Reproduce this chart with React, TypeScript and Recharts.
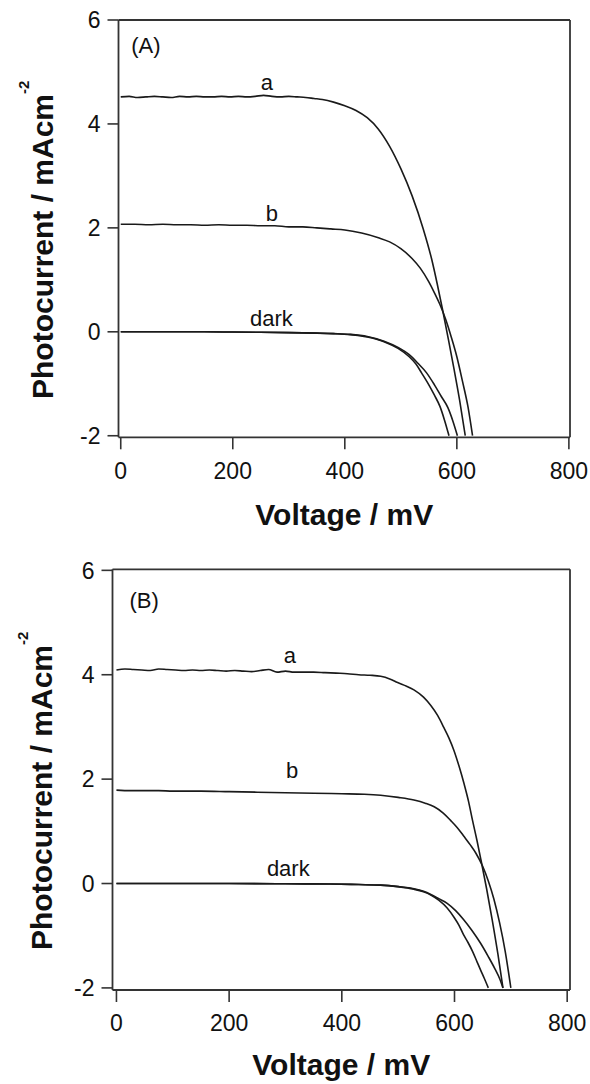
import React from 'react';
import { LineChart, Line, XAxis, YAxis, ReferenceLine, ReferenceDot } from 'recharts';

const FONT = '"Liberation Sans", Arial, Helvetica, sans-serif';
const INK = '#111';
const AXIS = '#333';

const X_TICKS = [0, 200, 400, 600, 800];
const Y_TICKS = [-2, 0, 2, 4, 6];

// Panel A
const A_A_V = [0, 15, 30, 45, 60, 75, 90, 105, 120, 135, 150, 165, 180, 195, 210, 225, 240, 255, 270, 285, 300, 315, 330, 345, 360, 380, 400, 420, 440, 460, 480, 500, 520, 540, 555, 565, 575, 585, 595, 605, 615];
const A_A_J = [4.52, 4.53, 4.51, 4.52, 4.53, 4.52, 4.51, 4.53, 4.52, 4.53, 4.52, 4.52, 4.53, 4.52, 4.53, 4.52, 4.53, 4.55, 4.53, 4.52, 4.53, 4.52, 4.51, 4.49, 4.47, 4.42, 4.35, 4.26, 4.12, 3.9, 3.57, 3.14, 2.62, 1.98, 1.4, 0.92, 0.4, -0.15, -0.72, -1.32, -2.0];

const A_B_V = [0, 25, 50, 75, 100, 125, 150, 175, 200, 225, 250, 275, 300, 325, 350, 375, 400, 430, 460, 480, 500, 520, 535, 550, 560, 570, 580, 590, 600, 610, 620, 628];
const A_B_J = [2.07, 2.07, 2.06, 2.07, 2.06, 2.06, 2.05, 2.06, 2.05, 2.05, 2.04, 2.04, 2.02, 2.02, 2.0, 1.98, 1.96, 1.9, 1.81, 1.73, 1.6, 1.41, 1.22, 0.96, 0.75, 0.52, 0.24, -0.1, -0.48, -0.95, -1.45, -2.0];

const A_D1_V = [0, 50, 100, 150, 200, 250, 300, 350, 380, 410, 440, 470, 495, 515, 527, 537, 550, 560, 570, 578, 586];
const A_D1_J = [0, 0, 0, 0, -0.005, -0.01, -0.015, -0.025, -0.035, -0.055, -0.1, -0.19, -0.32, -0.48, -0.62, -0.79, -1.02, -1.22, -1.44, -1.7, -2.0];

const A_D2_V = [0, 50, 100, 150, 200, 250, 300, 350, 380, 410, 440, 470, 495, 515, 530, 546, 560, 572, 584, 593, 601];
const A_D2_J = [0, 0, 0, 0, -0.005, -0.01, -0.015, -0.025, -0.035, -0.05, -0.09, -0.18, -0.3, -0.44, -0.6, -0.79, -1.02, -1.24, -1.46, -1.72, -2.0];

// Panel B
const B_A_V = [0, 15, 30, 45, 60, 75, 90, 105, 120, 135, 150, 165, 180, 195, 210, 225, 240, 255, 270, 285, 300, 315, 330, 350, 370, 390, 410, 430, 450, 469, 485, 499, 515, 528, 545, 558, 570, 581, 590, 599, 608, 617, 625, 632, 640, 647, 657, 667, 677, 686];
const B_A_J = [4.09, 4.11, 4.1, 4.09, 4.08, 4.11, 4.1, 4.09, 4.08, 4.09, 4.08, 4.09, 4.08, 4.07, 4.08, 4.07, 4.06, 4.08, 4.1, 4.05, 4.07, 4.05, 4.05, 4.05, 4.04, 4.03, 4.02, 4.0, 3.99, 3.97, 3.92, 3.85, 3.78, 3.71, 3.57, 3.41, 3.22, 2.99, 2.79, 2.55, 2.25, 1.91, 1.57, 1.21, 0.82, 0.45, -0.1, -0.7, -1.35, -2.0];

const B_B_V = [0, 25, 50, 75, 100, 150, 200, 250, 300, 350, 400, 440, 469, 500, 528, 548, 564, 580, 593, 605, 617, 628, 638, 650, 660, 670, 680, 690, 700];
const B_B_J = [1.79, 1.78, 1.78, 1.78, 1.77, 1.77, 1.76, 1.75, 1.74, 1.73, 1.72, 1.71, 1.69, 1.65, 1.6, 1.54, 1.47, 1.35, 1.21, 1.07, 0.9, 0.74, 0.58, 0.33, 0.05, -0.3, -0.75, -1.3, -2.0];

const B_D1_V = [0, 100, 200, 300, 380, 430, 469, 500, 528, 545, 558, 572, 587, 600, 608, 616, 624, 632, 640, 646, 653, 660];
const B_D1_J = [0, 0, 0, -0.005, -0.01, -0.02, -0.03, -0.06, -0.11, -0.16, -0.22, -0.32, -0.47, -0.66, -0.8, -0.98, -1.13, -1.3, -1.5, -1.65, -1.82, -2.0];

const B_D2_V = [0, 100, 200, 300, 380, 430, 469, 500, 528, 545, 558, 572, 587, 602, 616, 631, 646, 660, 672, 680, 686];
const B_D2_J = [0, 0, 0, -0.005, -0.01, -0.02, -0.03, -0.06, -0.1, -0.15, -0.21, -0.29, -0.38, -0.52, -0.69, -0.9, -1.14, -1.4, -1.64, -1.82, -2.0];

// annotations
const A_NOTES = [
  { text: '(A)', v: 45, j: 5.51 },
  { text: 'a', v: 261, j: 4.81 },
  { text: 'b', v: 270, j: 2.29 },
  { text: 'dark', v: 269, j: 0.27 },
];
const B_NOTES = [
  { text: '(B)', v: 49, j: 5.43 },
  { text: 'a', v: 308, j: 4.38 },
  { text: 'b', v: 312, j: 2.17 },
  { text: 'dark', v: 305, j: 0.29 },
];

const zip = (vs: number[], js: number[]) => vs.map((v, i) => ({ v, j: js[i] }));

const A_SERIES = [zip(A_A_V, A_A_J), zip(A_B_V, A_B_J), zip(A_D1_V, A_D1_J), zip(A_D2_V, A_D2_J)];
const B_SERIES = [zip(B_A_V, B_A_J), zip(B_B_V, B_B_J), zip(B_D1_V, B_D1_J), zip(B_D2_V, B_D2_J)];

type PanelProps = {
  top: number;
  height: number;
  margin: { top: number; right: number; bottom: number; left: number };
  xDomain: [number, number];
  yDomain: [number, number];
  series: { v: number; j: number }[][];
  notes: { text: string; v: number; j: number }[];
  yLabelX: number;
  yLabelY: number;
  xLabelOffset: number;
};

function Panel(p: PanelProps) {
  const yLabel = () => (
    <text
      transform={`translate(${p.yLabelX},${p.yLabelY}) rotate(-90)`}
      fontFamily={FONT}
      fontSize={30}
      fontWeight="bold"
      fill={INK}
      textAnchor="start"
    >
      Photocurrent / mAcm
      <tspan fontSize={15} dy={-24}>-2</tspan>
    </text>
  );
  return (
    <div style={{ position: 'absolute', left: 0, top: p.top }}>
      <LineChart width={590} height={p.height} margin={p.margin}>
        <XAxis
          type="number"
          dataKey="v"
          domain={p.xDomain}
          ticks={X_TICKS}
          height={40}
          tickSize={12}
          tickMargin={13}
          axisLine={{ stroke: AXIS, strokeWidth: 1.8 }}
          tickLine={{ stroke: AXIS, strokeWidth: 1.6 }}
          tick={{ fill: INK, fontSize: 23, fontFamily: FONT }}
          label={{
            value: 'Voltage / mV',
            position: 'bottom',
            offset: p.xLabelOffset,
            fontSize: 30,
            fontWeight: 'bold',
            fill: INK,
            fontFamily: FONT,
          }}
        />
        <YAxis
          type="number"
          dataKey="j"
          domain={p.yDomain}
          ticks={Y_TICKS}
          width={60}
          tickSize={11}
          tickMargin={7}
          axisLine={{ stroke: AXIS, strokeWidth: 1.8 }}
          tickLine={{ stroke: AXIS, strokeWidth: 1.6 }}
          tick={{ fill: INK, fontSize: 23, fontFamily: FONT }}
          label={yLabel}
        />
        <ReferenceLine y={p.yDomain[1]} stroke={AXIS} strokeWidth={1.8} />
        <ReferenceLine x={p.xDomain[1]} stroke={AXIS} strokeWidth={1.8} />
        {p.series.map((d, i) => (
          <Line
            key={i}
            data={d}
            dataKey="j"
            type="monotone"
            dot={false}
            stroke="#1a1a1a"
            strokeWidth={1.6}
            isAnimationActive={false}
          />
        ))}
        {p.notes.map((n, i) => (
          <ReferenceDot
            key={'n' + i}
            x={n.v}
            y={n.j}
            r={0}
            fill="none"
            stroke="none"
            label={{ value: n.text, position: 'center', fontSize: 22, fill: INK, fontFamily: FONT }}
          />
        ))}
      </LineChart>
    </div>
  );
}

export default function App() {
  return (
    <div style={{ position: 'absolute', left: 0, top: 0, width: 590, height: 1084, background: '#fff' }}>
      <Panel
        top={0}
        height={540}
        margin={{ top: 20, right: 20, bottom: 62.7, left: 58.5 }}
        xDomain={[-4, 802]}
        yDomain={[-2.03, 6]}
        series={A_SERIES}
        notes={A_NOTES}
        yLabelX={53}
        yLabelY={399}
        xLabelOffset={26}
      />
      <Panel
        top={549}
        height={535}
        margin={{ top: 20.3, right: 20, bottom: 54, left: 52.5 }}
        xDomain={[-7, 805]}
        yDomain={[-2.04, 6.02]}
        series={B_SERIES}
        notes={B_NOTES}
        yLabelX={52}
        yLabelY={401}
        xLabelOffset={24}
      />
    </div>
  );
}
